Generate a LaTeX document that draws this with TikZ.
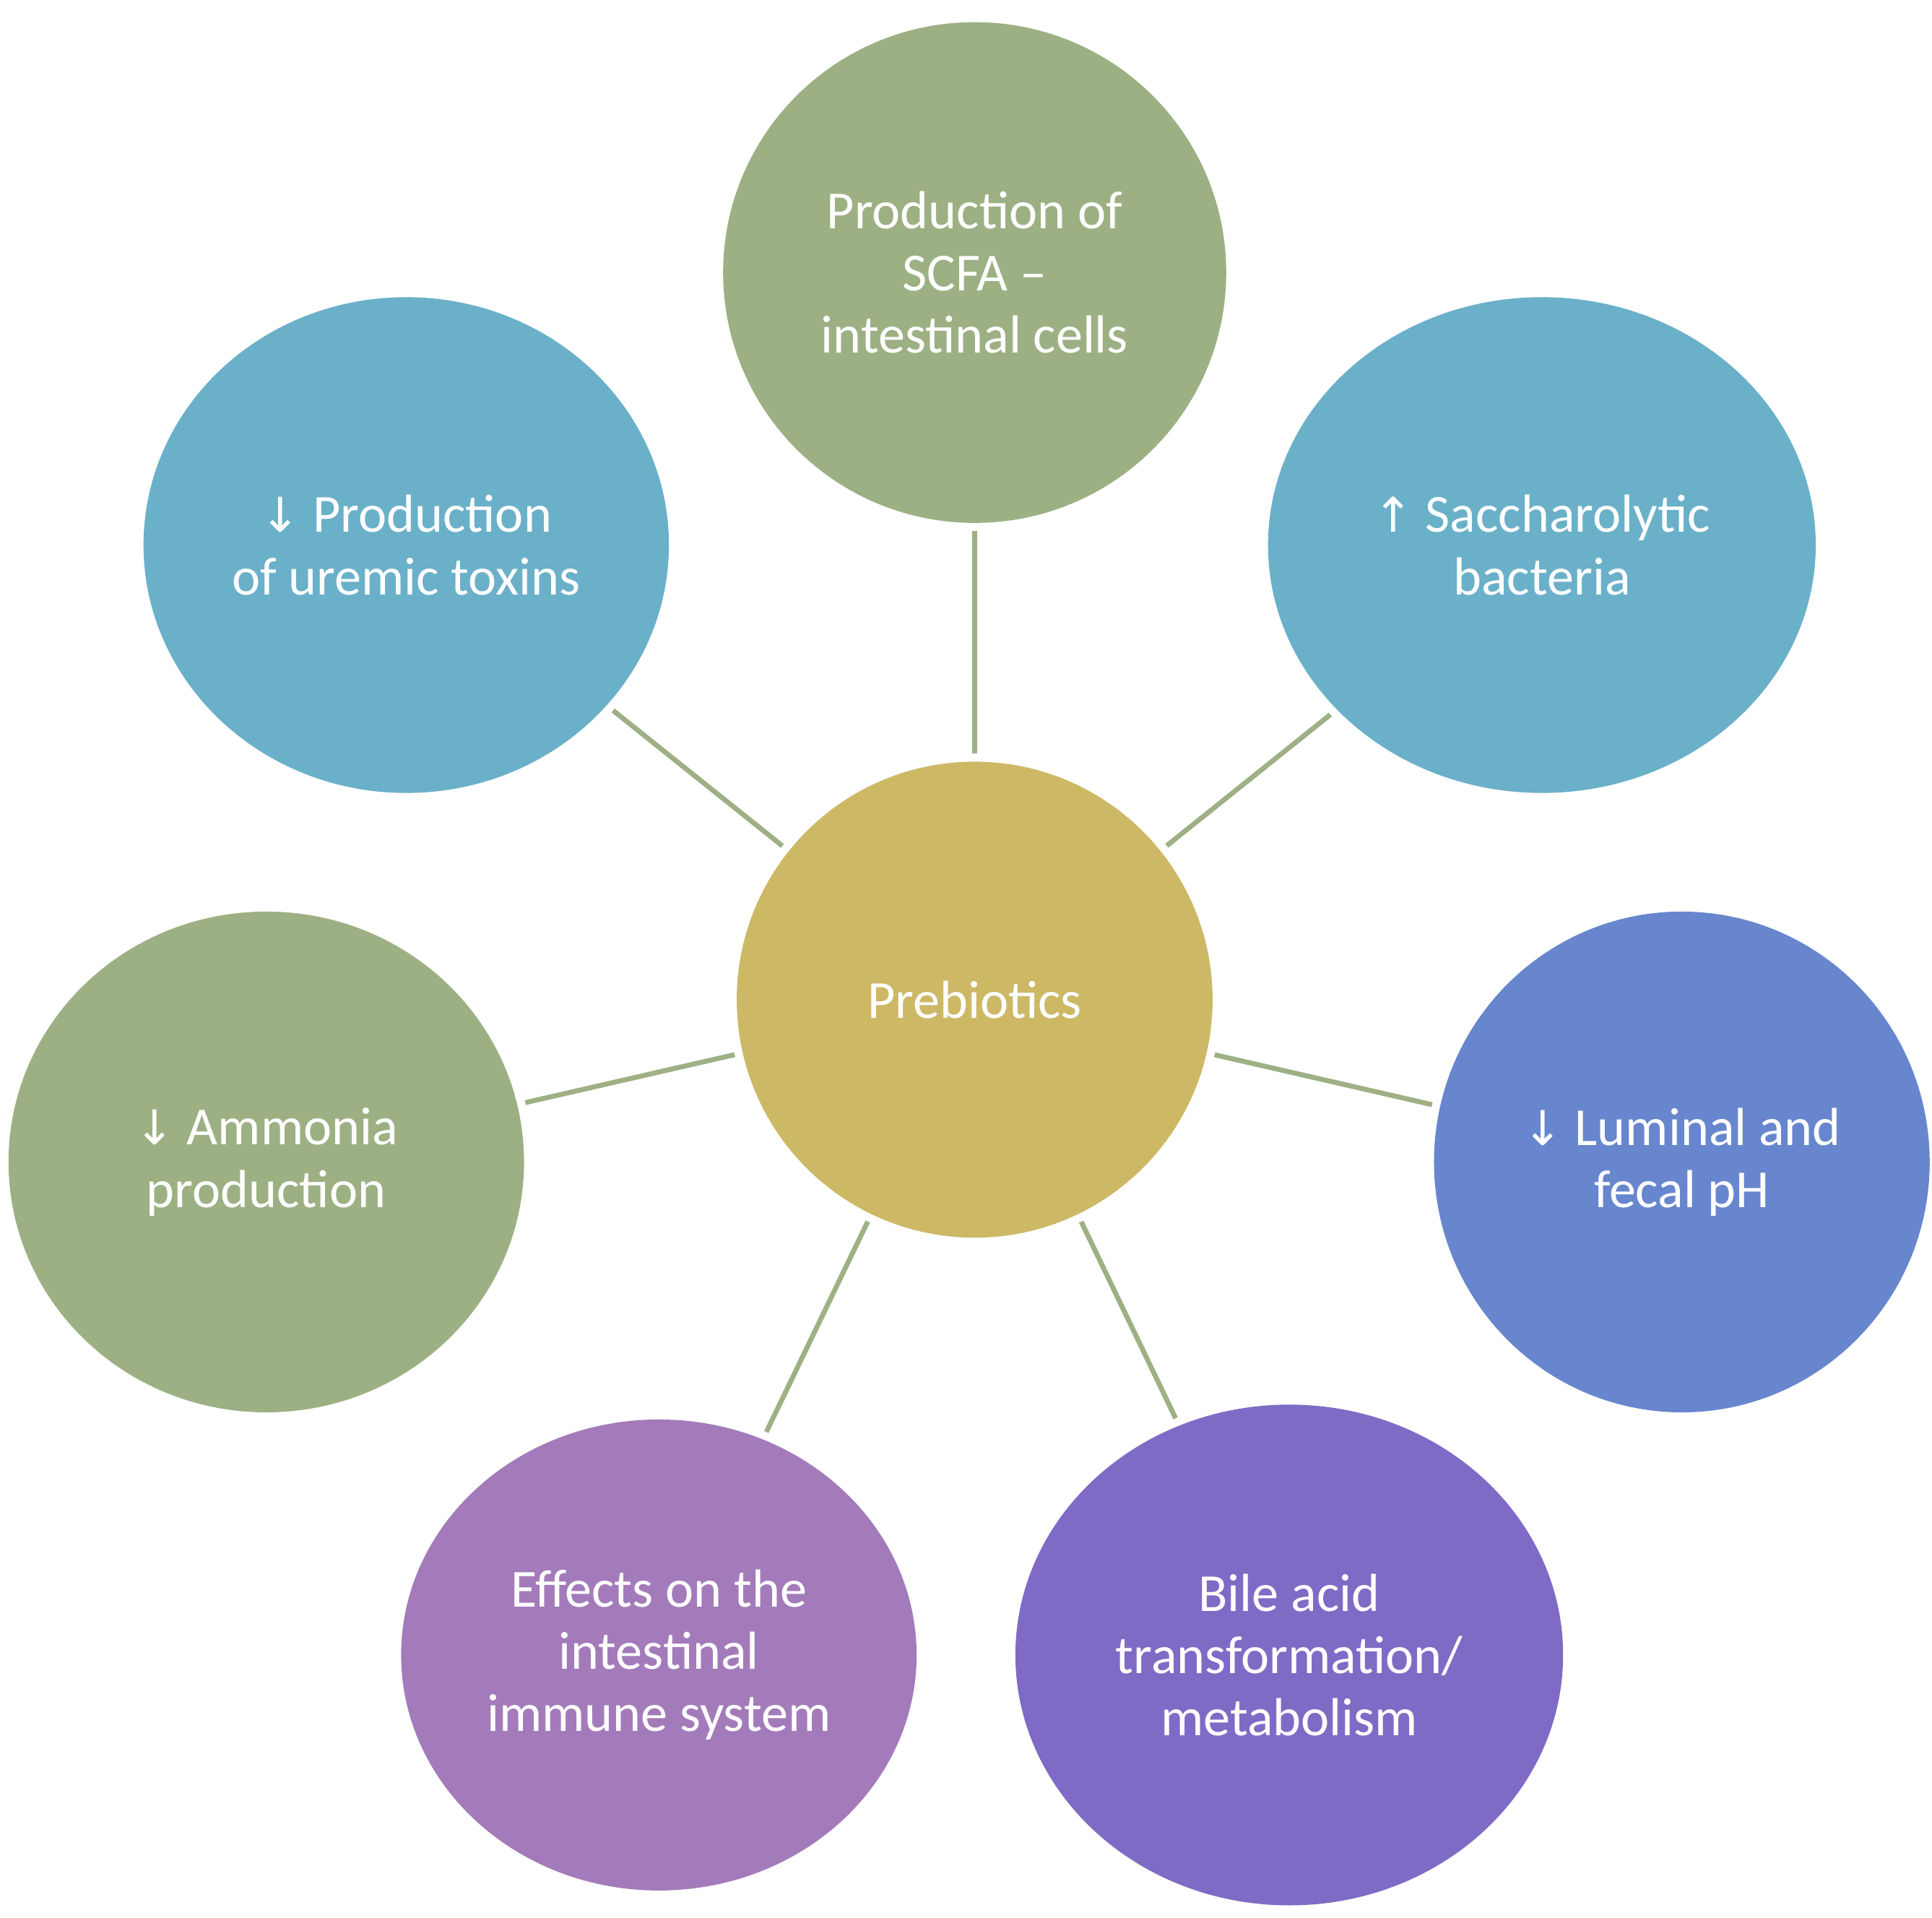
\documentclass[tikz,border=0pt]{standalone}
\usepackage{fontspec}
\setmainfont{Carlito}
\newfontfamily\arr{DejaVu Sans}
\usetikzlibrary{shapes.geometric}
\definecolor{cgreen}{RGB}{157,176,131}
\definecolor{cblue}{RGB}{107,176,201}
\definecolor{ccenter}{RGB}{205,184,102}
\definecolor{crblue}{RGB}{103,134,205}
\definecolor{cpurp}{RGB}{163,123,186}
\definecolor{cviol}{RGB}{127,107,198}
\definecolor{cline}{RGB}{158,176,132}
\tikzset{
 bub/.style={ellipse,inner sep=0pt,text=white,align=center,font=\fontsize{12.3}{14.3}\selectfont},
 link/.style={draw=cline,line width=0.04cm,shorten <=0.06cm,shorten >=0.06cm}
}
\newcommand{\dn}{{\arr\fontsize{11}{13}\selectfont ↓}}
\newcommand{\up}{{\arr\fontsize{11}{13}\selectfont ↑}}
\begin{document}
\begin{tikzpicture}[x=0.01cm,y=-0.01cm]
\useasboundingbox (0,0) rectangle (1560,1548);
\node[bub,fill=cgreen,minimum width=4.06cm,minimum height=4.04cm] (t) at (787,220) {Production of\\SCFA --\\intestinal cells};
\node[bub,fill=cblue,minimum width=4.24cm,minimum height=4.0cm] (ul) at (328,440) {\dn\ Production\\of uremic toxins};
\node[bub,fill=cblue,minimum width=4.42cm,minimum height=4.0cm] (ur) at (1245,440) {\up\ Saccharolytic\\bacteria};
\node[bub,fill=ccenter,minimum width=3.84cm,minimum height=3.84cm] (c) at (787,807) {Prebiotics};
\node[bub,fill=cgreen,minimum width=4.16cm,minimum height=4.04cm] (l) at (215,938) {\dn\ Ammonia\\production};
\node[bub,fill=crblue,minimum width=4.0cm,minimum height=4.04cm] (r) at (1358,938) {\dn\ Luminal and\\fecal pH};
\node[bub,fill=cpurp,minimum width=4.16cm,minimum height=3.8cm] (bl) at (532,1336) {Effects on the\\intestinal\\immune system};
\node[bub,fill=cviol,minimum width=4.42cm,minimum height=4.04cm] (br) at (1041,1336) {Bile acid\\transformation/\\metabolism};
\foreach \n in {t,ul,ur,l,r,bl,br} \draw[link] (c) -- (\n);
\end{tikzpicture}
\end{document}
